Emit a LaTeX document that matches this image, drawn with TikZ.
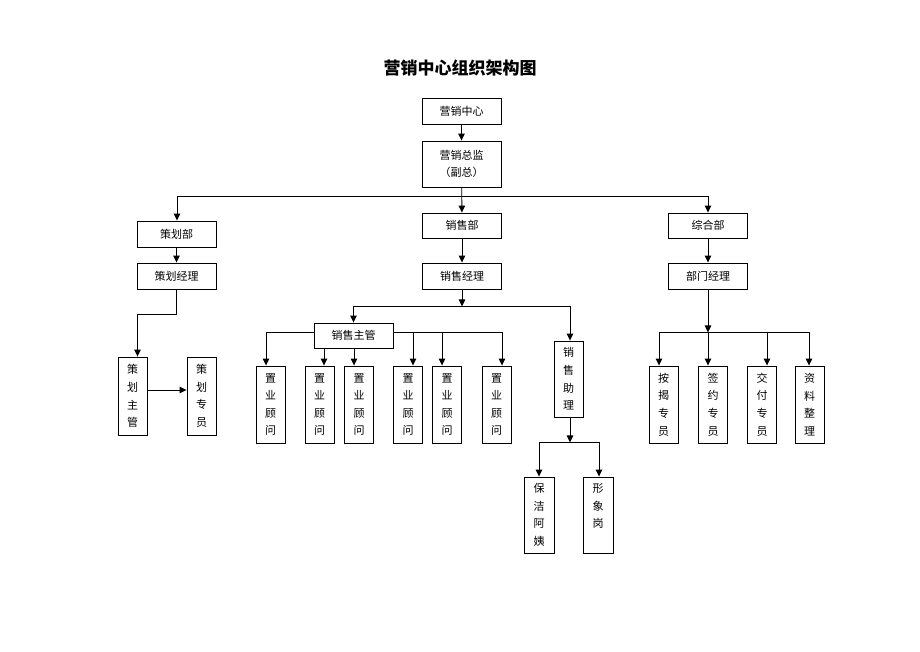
\documentclass[tikz,border=0pt]{standalone}
\usepackage{fontspec}
\newfontfamily\cjk{Noto Sans CJK SC}
\usetikzlibrary{arrows.meta,calc}
\begin{document}
\begin{tikzpicture}[x=1pt,y=-1pt,
  box/.style={draw, line width=0.9pt, inner sep=0pt, align=center,
    font=\cjk\fontsize{11}{17}\selectfont},
  hbox/.style={box, minimum width=79pt, minimum height=26pt},
  vbox/.style={box, minimum width=29pt, minimum height=77pt,
    font=\cjk\fontsize{11}{17.6}\selectfont},
  conn/.style={line width=0.9pt},
  arr/.style={conn, -{Triangle[length=7pt,width=6.5pt]}}]
\useasboundingbox (0,0) rectangle (920,651);
\fill[white] (0,0) rectangle (920,651);

\node[font=\cjk\bfseries\fontsize{17}{18}\selectfont] (title) at (460,68) {营销中心组织架构图};

% top level
\node[hbox] (zx) at (461.5,111) {营销中心};
\node[hbox, minimum height=46pt] (zj) at (461.5,164) {营销总监\\（副总）};

% departments
\node[hbox] (chb) at (176.5,234) {策划部};
\node[hbox] (chj) at (176.5,276) {策划经理};
\node[hbox, minimum height=25pt] (xsb) at (462,225.5) {销售部};
\node[hbox] (xsj) at (462,276) {销售经理};
\node[hbox, minimum height=25pt] (zhb) at (708,225.5) {综合部};
\node[hbox] (bmj) at (708,276) {部门经理};

% planning
\node[vbox, minimum height=78pt] (chzg) at (132.5,396) {策\\划\\主\\管};
\node[vbox, minimum height=78pt] (chzy) at (201.5,396) {策\\划\\专\\员};

% sales
\node[hbox, minimum height=25pt] (xszg) at (353.5,335.5) {销售主管};
\node[vbox] (zy1) at (270.5,404.5) {置\\业\\顾\\问};
\node[vbox] (zy2) at (319.5,404.5) {置\\业\\顾\\问};
\node[vbox] (zy3) at (359,404.5) {置\\业\\顾\\问};
\node[vbox] (zy4) at (408,404.5) {置\\业\\顾\\问};
\node[vbox] (zy5) at (447,404.5) {置\\业\\顾\\问};
\node[vbox] (zy6) at (496.5,404.5) {置\\业\\顾\\问};
\node[vbox, minimum height=76pt] (xszl) at (568.5,379) {销\\售\\助\\理};
\node[vbox, minimum width=30pt, minimum height=76pt] (bj) at (539,515) {保\\洁\\阿\\姨};
\node[vbox, minimum width=30pt, minimum height=76pt] (xxg) at (598,515) {形\\象\\岗\\\phantom{岗}};

% general
\node[vbox] (aj) at (663.5,404.5) {按\\揭\\专\\员};
\node[vbox] (qy) at (713,404.5) {签\\约\\专\\员};
\node[vbox] (jf) at (762,404.5) {交\\付\\专\\员};
\node[vbox] (zl) at (809.5,404.5) {资\\料\\整\\理};

% connectors: top
\draw[arr] (zx) -- (zj);
\draw[arr] (zj) -- (xsb);
\coordinate (j1) at ($(zj.south)+(0,9)$);
\draw[arr] (j1) -| ([xshift=0.5pt]chb.north);
\draw[arr] (j1) -| (zhb.north);
\draw[arr] (chb) -- (chj);
\draw[arr] (xsb) -- (xsj);
\draw[arr] (zhb) -- (bmj);

% planning branch
\draw[arr] (chj.south) -- ++(0,25) -| ([xshift=5pt]chzg.north);
\draw[arr] ([yshift=6pt]chzg.east) -- ([yshift=6pt]chzy.west);

% sales branch
\coordinate (j2) at ($(xsj.south)+(0,17)$);
\draw[arr] (xsj.south) -- (j2);
\draw[arr] (j2) -| (xszg.north);
\draw[arr] (j2) -| ([xshift=1.5pt]xszl.north);
\coordinate (kl) at ($(xszg.west)+(0,-3.5)$);
\coordinate (kr) at ($(xszg.east)+(0,-3.5)$);
\coordinate (a1) at ([xshift=-4.5pt]zy1.north);
\coordinate (a2) at ([xshift=4.5pt]zy2.north);
\coordinate (a3) at ([xshift=-5pt]zy3.north);
\coordinate (a4) at ([xshift=5pt]zy4.north);
\coordinate (a5) at ([xshift=-5pt]zy5.north);
\coordinate (a6) at ([xshift=5.5pt]zy6.north);
\draw[arr] (kl) -| (a1);
\draw[arr] (kr) -| (a6);
\draw[arr] (a4 |- kr) -- (a4);
\draw[arr] (a5 |- kr) -- (a5);
\draw[arr] (a2 |- xszg.south) -- (a2);
\draw[arr] (a3 |- xszg.south) -- (a3);
\coordinate (j3) at ($(xszl.south)+(1.5,25)$);
\draw[arr] (xszl.south -| j3) -- (j3);
\draw[arr] (j3) -| (bj.north);
\draw[arr] (j3) -| ([xshift=1pt]xxg.north);

% general branch
\coordinate (j4) at ($(bmj.south)+(0,43)$);
\draw[arr] (bmj.south) -- (j4);
\coordinate (b1) at ([xshift=-4.5pt]aj.north);
\coordinate (b2) at ([xshift=-5pt]qy.north);
\coordinate (b3) at ([xshift=5pt]jf.north);
\coordinate (b4) at ([xshift=-0.5pt]zl.north);
\draw[arr] (j4) -| (b1);
\draw[arr] (j4) -| (b4);
\draw[arr] (b2 |- j4) -- (b2);
\draw[arr] (b3 |- j4) -- (b3);
\end{tikzpicture}
\end{document}
